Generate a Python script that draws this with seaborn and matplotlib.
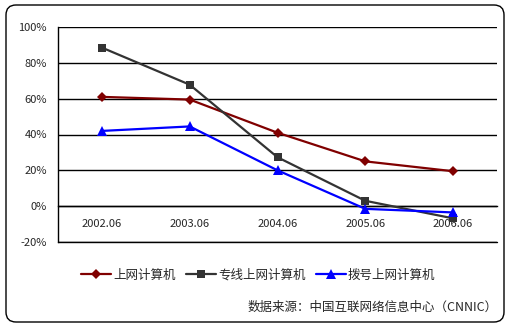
import matplotlib
matplotlib.use("Agg")
import matplotlib.pyplot as plt
from matplotlib.patches import FancyBboxPatch
from matplotlib.ticker import FixedLocator, NullFormatter, FixedFormatter
import pandas as pd
import seaborn as sns

periods = ["2002.06", "2003.06", "2004.06", "2005.06", "2006.06"]
online_pc = [61.0, 59.5, 41.0, 25.0, 19.5]
dedicated_pc = [88.5, 67.8, 27.3, 3.0, -6.8]
dialup_pc = [42.0, 44.5, 20.0, -1.5, -3.5]
series_names = ["上网计算机", "专线上网计算机", "拨号上网计算机"]
y_ticks = [-20, 0, 20, 40, 60, 80, 100]

sns.set_style("white")
plt.rcParams["font.family"] = ["Noto Sans CJK SC", "DejaVu Sans"]

rows = []
for name, vals in zip(series_names, [online_pc, dedicated_pc, dialup_pc]):
    for i, v in enumerate(vals):
        rows.append({"period": i, "value": v, "series": name})
df = pd.DataFrame(rows)

fig = plt.figure(figsize=(5.11, 3.28), dpi=100)
ax = fig.add_axes([58 / 511, 1 - 242 / 328, 439 / 511, 215 / 328])

palette = {"上网计算机": "#800000", "专线上网计算机": "#333333", "拨号上网计算机": "#0000FF"}
markers = {"上网计算机": "D", "专线上网计算机": "s", "拨号上网计算机": "^"}
sizes = {"上网计算机": 5, "专线上网计算机": 6, "拨号上网计算机": 6.5}

for name in series_names:
    sub = df[df["series"] == name]
    sns.lineplot(data=sub, x="period", y="value", ax=ax, color=palette[name],
                 marker=markers[name], markersize=sizes[name], markeredgewidth=0,
                 linewidth=1.6, label=name, zorder=3)

ax.set_xlim(-0.5, 4.5)
ax.set_ylim(-20, 100)
ax.set_yticks(y_ticks)
ax.set_yticklabels([f"{t}%" for t in y_ticks], fontsize=8)
ax.yaxis.grid(True, color="black", linewidth=1)
ax.xaxis.grid(False)
ax.set_axisbelow(True)
ax.tick_params(axis="y", length=0, pad=8)
# bottom border of the plotting area
ax.axhline(-20, color="black", linewidth=1, clip_on=False, zorder=1)

# category axis placed on the zero line; boundary ticks, labels centered
ax.spines["bottom"].set_position(("data", 0))
ax.spines["bottom"].set_color("black")
ax.spines["bottom"].set_linewidth(1)
ax.xaxis.set_major_locator(FixedLocator([0.5, 1.5, 2.5, 3.5, 4.5]))
ax.xaxis.set_major_formatter(NullFormatter())
ax.xaxis.set_minor_locator(FixedLocator(range(len(periods))))
ax.xaxis.set_minor_formatter(FixedFormatter(periods))
ax.tick_params(axis="x", which="major", direction="in", length=3, width=1, color="black")
ax.tick_params(axis="x", which="minor", length=0, pad=9, labelsize=8)
ax.spines["left"].set_color("black")
ax.spines["left"].set_linewidth(1)
ax.spines["right"].set_visible(False)
ax.spines["top"].set_visible(False)
ax.set_xlabel("")
ax.set_ylabel("")

handles, labels = ax.get_legend_handles_labels()
ax.get_legend().remove()
fig.legend(handles, labels, loc="center", bbox_to_anchor=(0.505, 1 - 275 / 328), ncol=3,
           frameon=False, fontsize=9, handlelength=2.4, handletextpad=0.2,
           columnspacing=0.8)

fig.text(498 / 511, 1 - 307 / 328, "数据来源：中国互联网络信息中心（CNNIC）",
         ha="right", va="center", fontsize=9)

frame = FancyBboxPatch((0.06, 0.06), 4.98, 3.17,
                       boxstyle="round,pad=0,rounding_size=0.1",
                       transform=fig.dpi_scale_trans, fill=False,
                       edgecolor="black", linewidth=1, zorder=0)
fig.patches.append(frame)

fig.savefig("out.png", dpi=100)
